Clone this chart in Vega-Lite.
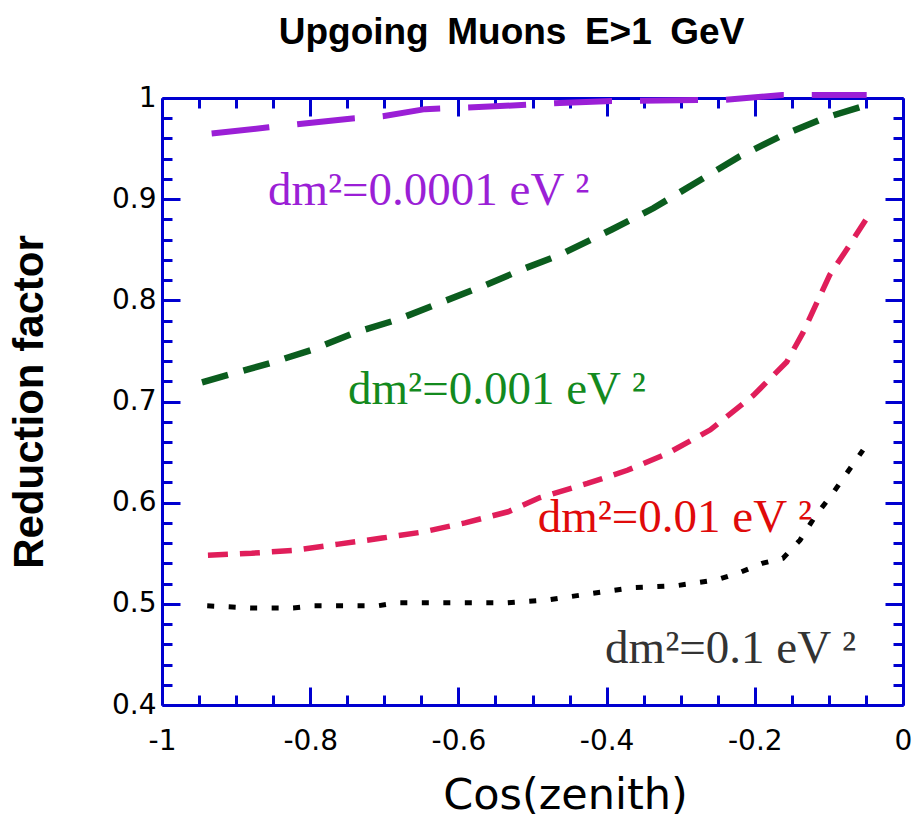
{
  "$schema": "https://vega.github.io/schema/vega-lite/v6.json",
  "width": 741,
  "height": 607,
  "autosize": {"type": "none"},
  "padding": {"left": 162, "top": 98, "right": 12, "bottom": 113},
  "background": "white",
  "datasets": {
    "curves": [
      {"series": "0.0001", "cos": -0.933, "factor": 0.965},
      {"series": "0.0001", "cos": -0.856, "factor": 0.971},
      {"series": "0.0001", "cos": -0.818, "factor": 0.974},
      {"series": "0.0001", "cos": -0.740, "factor": 0.980},
      {"series": "0.0001", "cos": -0.702, "factor": 0.982},
      {"series": "0.0001", "cos": -0.645, "factor": 0.989},
      {"series": "0.0001", "cos": -0.544, "factor": 0.992},
      {"series": "0.0001", "cos": -0.463, "factor": 0.995},
      {"series": "0.0001", "cos": -0.393, "factor": 0.997},
      {"series": "0.0001", "cos": -0.278, "factor": 0.998},
      {"series": "0.0001", "cos": -0.242, "factor": 0.998},
      {"series": "0.0001", "cos": -0.163, "factor": 1.003},
      {"series": "0.0001", "cos": -0.049, "factor": 1.003},

      {"series": "0.001", "cos": -0.946, "factor": 0.719},
      {"series": "0.001", "cos": -0.912, "factor": 0.726},
      {"series": "0.001", "cos": -0.854, "factor": 0.738},
      {"series": "0.001", "cos": -0.798, "factor": 0.751},
      {"series": "0.001", "cos": -0.740, "factor": 0.768},
      {"series": "0.001", "cos": -0.682, "factor": 0.781},
      {"series": "0.001", "cos": -0.623, "factor": 0.798},
      {"series": "0.001", "cos": -0.567, "factor": 0.814},
      {"series": "0.001", "cos": -0.509, "factor": 0.832},
      {"series": "0.001", "cos": -0.463, "factor": 0.845},
      {"series": "0.001", "cos": -0.393, "factor": 0.870},
      {"series": "0.001", "cos": -0.337, "factor": 0.891},
      {"series": "0.001", "cos": -0.278, "factor": 0.917},
      {"series": "0.001", "cos": -0.221, "factor": 0.942},
      {"series": "0.001", "cos": -0.163, "factor": 0.963},
      {"series": "0.001", "cos": -0.107, "factor": 0.980},
      {"series": "0.001", "cos": -0.049, "factor": 0.993},

      {"series": "0.01", "cos": -0.938, "factor": 0.548},
      {"series": "0.01", "cos": -0.879, "factor": 0.550},
      {"series": "0.01", "cos": -0.821, "factor": 0.553},
      {"series": "0.01", "cos": -0.762, "factor": 0.559},
      {"series": "0.01", "cos": -0.703, "factor": 0.565},
      {"series": "0.01", "cos": -0.648, "factor": 0.571},
      {"series": "0.01", "cos": -0.591, "factor": 0.580},
      {"series": "0.01", "cos": -0.533, "factor": 0.591},
      {"series": "0.01", "cos": -0.490, "factor": 0.605},
      {"series": "0.01", "cos": -0.426, "factor": 0.619},
      {"series": "0.01", "cos": -0.372, "factor": 0.632},
      {"series": "0.01", "cos": -0.317, "factor": 0.649},
      {"series": "0.01", "cos": -0.260, "factor": 0.672},
      {"series": "0.01", "cos": -0.202, "factor": 0.706},
      {"series": "0.01", "cos": -0.157, "factor": 0.739},
      {"series": "0.01", "cos": -0.135, "factor": 0.768},
      {"series": "0.01", "cos": -0.099, "factor": 0.825},
      {"series": "0.01", "cos": -0.078, "factor": 0.848},
      {"series": "0.01", "cos": -0.049, "factor": 0.881},

      {"series": "0.1", "cos": -0.939, "factor": 0.498},
      {"series": "0.1", "cos": -0.881, "factor": 0.496},
      {"series": "0.1", "cos": -0.823, "factor": 0.496},
      {"series": "0.1", "cos": -0.796, "factor": 0.498},
      {"series": "0.1", "cos": -0.709, "factor": 0.498},
      {"series": "0.1", "cos": -0.682, "factor": 0.501},
      {"series": "0.1", "cos": -0.534, "factor": 0.501},
      {"series": "0.1", "cos": -0.479, "factor": 0.504},
      {"series": "0.1", "cos": -0.422, "factor": 0.510},
      {"series": "0.1", "cos": -0.364, "factor": 0.516},
      {"series": "0.1", "cos": -0.305, "factor": 0.518},
      {"series": "0.1", "cos": -0.250, "factor": 0.524},
      {"series": "0.1", "cos": -0.220, "factor": 0.531},
      {"series": "0.1", "cos": -0.190, "factor": 0.540},
      {"series": "0.1", "cos": -0.162, "factor": 0.545},
      {"series": "0.1", "cos": -0.139, "factor": 0.563},
      {"series": "0.1", "cos": -0.119, "factor": 0.586},
      {"series": "0.1", "cos": -0.096, "factor": 0.608},
      {"series": "0.1", "cos": -0.076, "factor": 0.629},
      {"series": "0.1", "cos": -0.054, "factor": 0.652}
    ],
    "labels": [
      {"series": "0.0001", "text": "dm²=0.0001 eV ²", "cos": -0.857, "factor": 0.894},
      {"series": "0.001", "text": "dm²=0.001 eV ²", "cos": -0.749, "factor": 0.698},
      {"series": "0.01", "text": "dm²=0.01 eV ²", "cos": -0.493, "factor": 0.571},
      {"series": "0.1", "text": "dm²=0.1 eV ²", "cos": -0.402, "factor": 0.4415}
    ]
  },
  "layer": [
    {
      "encoding": {
        "x": {
          "field": "cos",
          "type": "quantitative",
          "scale": {"domain": [-1, 0], "nice": false, "zero": false},
          "axis": {
            "orient": "bottom",
            "values": [-1, -0.95, -0.9, -0.85, -0.8, -0.75, -0.7, -0.65, -0.6, -0.55, -0.5, -0.45, -0.4, -0.35, -0.3, -0.25, -0.2, -0.15, -0.1, -0.05, 0],
            "labelExpr": "abs(datum.value * 5 - round(datum.value * 5)) < 1e-6 ? toString(datum.value) : ''",
            "tickSize": {"condition": {"test": "abs(datum.value * 5 - round(datum.value * 5)) < 1e-6", "value": -18}, "value": -10},
            "tickWidth": 3,
            "tickColor": "#0000d0",
            "domainColor": "#0000d0",
            "domainWidth": 3,
            "grid": false,
            "labelFont": "DejaVu Sans",
            "labelFontSize": 28,
            "labelColor": "black",
            "labelPadding": 40,
            "labelOverlap": false,
            "labelFlush": false,
            "title": "Cos(zenith)",
            "titleFont": "DejaVu Sans",
            "titleFontSize": 43,
            "titleFontWeight": "normal",
            "titleColor": "black",
            "titleX": 403,
            "titleY": 103,
            "titleBaseline": "alphabetic",
            "titleAlign": "center"
          }
        },
        "y": {
          "field": "factor",
          "type": "quantitative",
          "scale": {"domain": [0.4, 1], "nice": false, "zero": false},
          "axis": {
            "orient": "left",
            "values": [0.4, 0.42, 0.44, 0.46, 0.48, 0.5, 0.52, 0.54, 0.56, 0.58, 0.6, 0.62, 0.64, 0.66, 0.68, 0.7, 0.72, 0.74, 0.76, 0.78, 0.8, 0.82, 0.84, 0.86, 0.88, 0.9, 0.92, 0.94, 0.96, 0.98, 1],
            "labelExpr": "abs(datum.value * 10 - round(datum.value * 10)) < 1e-6 ? toString(datum.value) : ''",
            "tickSize": {"condition": {"test": "abs(datum.value * 10 - round(datum.value * 10)) < 1e-6", "value": -18}, "value": -10},
            "tickWidth": 3,
            "tickColor": "#0000d0",
            "domainColor": "#0000d0",
            "domainWidth": 3,
            "grid": false,
            "labelFont": "DejaVu Sans",
            "labelFontSize": 28,
            "labelColor": "black",
            "labelPadding": 24,
            "labelOverlap": false,
            "labelFlush": false,
            "title": "Reduction factor",
            "titleFont": "Liberation Sans",
            "titleFontSize": 42,
            "titleFontWeight": "bold",
            "titleColor": "black",
            "titleX": -120,
            "titleY": 303.5,
            "titleBaseline": "alphabetic",
            "titleAlign": "center"
          }
        }
      },
      "layer": [
        {
          "data": {"name": "curves"},
          "transform": [{"filter": "datum.series === '0.0001'"}],
          "mark": {"type": "line", "color": "#9b1fd6", "strokeWidth": 6, "strokeDash": [58, 28], "strokeCap": "butt"}
        },
        {
          "data": {"name": "curves"},
          "transform": [{"filter": "datum.series === '0.001'"}],
          "mark": {"type": "line", "color": "#0b5d1e", "strokeWidth": 6.5, "strokeDash": [27, 16], "strokeCap": "butt"}
        },
        {
          "data": {"name": "curves"},
          "transform": [{"filter": "datum.series === '0.01'"}],
          "mark": {"type": "line", "color": "#e01e5a", "strokeWidth": 5.5, "strokeDash": [20, 12], "strokeCap": "butt"}
        },
        {
          "data": {"name": "curves"},
          "transform": [{"filter": "datum.series === '0.1'"}],
          "mark": {"type": "line", "color": "#000000", "strokeWidth": 5, "strokeDash": [7, 14.5], "strokeCap": "butt"}
        },
        {
          "data": {"name": "labels"},
          "transform": [{"filter": "datum.series === '0.0001'"}],
          "mark": {"type": "text", "color": "#9b1fd6", "font": "Liberation Serif", "fontSize": 47, "align": "left", "baseline": "alphabetic"},
          "encoding": {"text": {"field": "text"}}
        },
        {
          "data": {"name": "labels"},
          "transform": [{"filter": "datum.series === '0.001'"}],
          "mark": {"type": "text", "color": "#138a1e", "font": "Liberation Serif", "fontSize": 47, "align": "left", "baseline": "alphabetic"},
          "encoding": {"text": {"field": "text"}}
        },
        {
          "data": {"name": "labels"},
          "transform": [{"filter": "datum.series === '0.01'"}],
          "mark": {"type": "text", "color": "#e00a0a", "font": "Liberation Serif", "fontSize": 47, "align": "left", "baseline": "alphabetic"},
          "encoding": {"text": {"field": "text"}}
        },
        {
          "data": {"name": "labels"},
          "transform": [{"filter": "datum.series === '0.1'"}],
          "mark": {"type": "text", "color": "#333333", "font": "Liberation Serif", "fontSize": 47, "align": "left", "baseline": "alphabetic"},
          "encoding": {"text": {"field": "text"}}
        }
      ]
    },
    {
      "data": {"name": "curves"},
      "mark": {"type": "point", "opacity": 0},
      "encoding": {
        "x": {
          "field": "cos",
          "type": "quantitative",
          "axis": {
            "orient": "top",
            "values": [-1, -0.95, -0.9, -0.85, -0.8, -0.75, -0.7, -0.65, -0.6, -0.55, -0.5, -0.45, -0.4, -0.35, -0.3, -0.25, -0.2, -0.15, -0.1, -0.05, 0],
            "labels": false,
            "tickSize": {"condition": {"test": "abs(datum.value * 5 - round(datum.value * 5)) < 1e-6", "value": -18}, "value": -10},
            "tickWidth": 3,
            "tickColor": "#0000d0",
            "domainColor": "#0000d0",
            "domainWidth": 3,
            "grid": false,
            "title": "Upgoing\u2002Muons\u2002E>1\u2002GeV",
            "titleFont": "Liberation Sans",
            "titleFontSize": 37,
            "titleFontWeight": "bold",
            "titleColor": "black",
            "titleX": 349,
            "titleY": -55,
            "titleBaseline": "alphabetic",
            "titleAlign": "center"
          }
        },
        "y": {
          "field": "factor",
          "type": "quantitative",
          "axis": {
            "orient": "right",
            "values": [0.4, 0.42, 0.44, 0.46, 0.48, 0.5, 0.52, 0.54, 0.56, 0.58, 0.6, 0.62, 0.64, 0.66, 0.68, 0.7, 0.72, 0.74, 0.76, 0.78, 0.8, 0.82, 0.84, 0.86, 0.88, 0.9, 0.92, 0.94, 0.96, 0.98, 1],
            "labels": false,
            "title": null,
            "tickSize": {"condition": {"test": "abs(datum.value * 10 - round(datum.value * 10)) < 1e-6", "value": -18}, "value": -10},
            "tickWidth": 3,
            "tickColor": "#0000d0",
            "domainColor": "#0000d0",
            "domainWidth": 3,
            "grid": false
          }
        }
      }
    }
  ],
  "resolve": {"axis": {"x": "independent", "y": "independent"}},
  "config": {"view": {"stroke": null}}
}
